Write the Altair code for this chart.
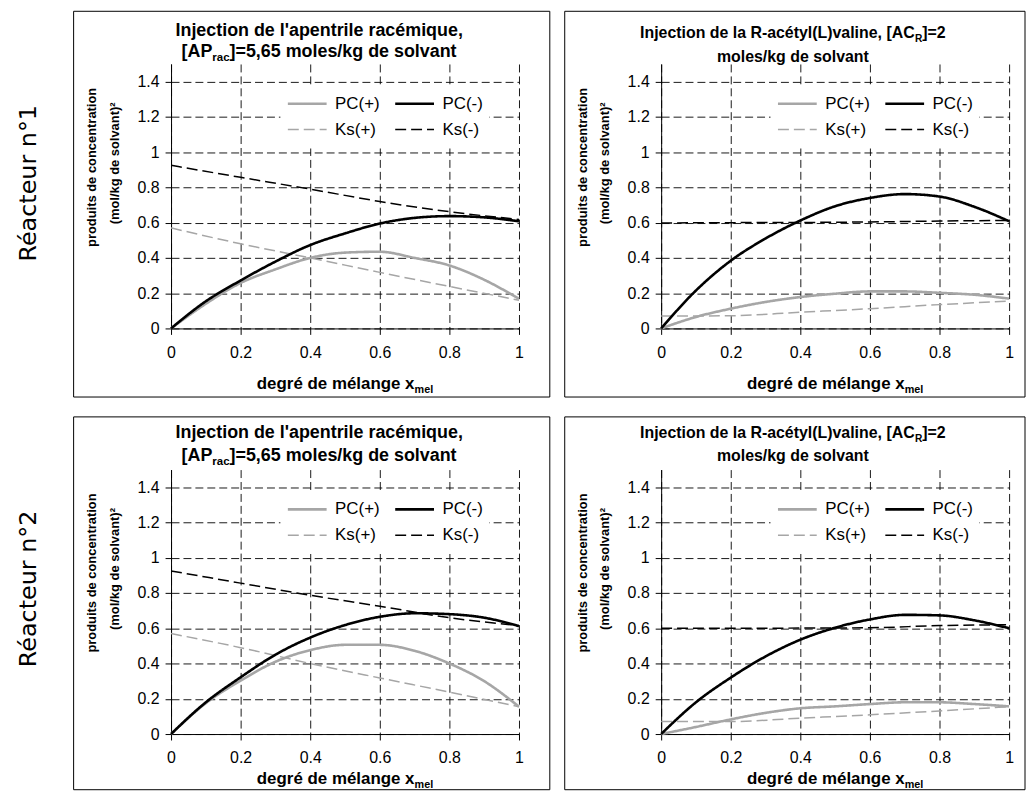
import altair as alt
import pandas as pd

# ---------------- data ----------------
X_PC = [0.0, 0.1, 0.2, 0.3, 0.4, 0.5, 0.6, 0.7, 0.8, 0.9, 1.0]
X_KS = [0.0, 0.2, 0.4, 0.6, 0.8, 1.0]

# Réacteur n°1 - injection de l'apentrile racémique
R1_AP_PC_PLUS = [0, 0.14, 0.258, 0.335, 0.40, 0.43, 0.435, 0.40, 0.357, 0.276, 0.168]
R1_AP_PC_MINUS = [0, 0.154, 0.272, 0.379, 0.473, 0.539, 0.595, 0.627, 0.637, 0.63, 0.608]
R1_AP_KS_PLUS = [0.57, 0.48, 0.40, 0.318, 0.238, 0.16]
R1_AP_KS_MINUS = [0.925, 0.857, 0.79, 0.72, 0.662, 0.618]

# Réacteur n°1 - injection de la R-acétyl(L)valine
R1_AC_PC_PLUS = [0, 0.065, 0.112, 0.15, 0.178, 0.197, 0.21, 0.21, 0.202, 0.191, 0.169]
R1_AC_PC_MINUS = [0, 0.215, 0.384, 0.51, 0.612, 0.693, 0.74, 0.762, 0.748, 0.69, 0.608]
R1_AC_KS_PLUS = [0.07, 0.072, 0.092, 0.112, 0.135, 0.155]
R1_AC_KS_MINUS = [0.598, 0.600, 0.601, 0.604, 0.609, 0.613]

# Réacteur n°2 - injection de l'apentrile racémique
R2_AP_PC_PLUS = [0, 0.175, 0.303, 0.41, 0.476, 0.506, 0.506, 0.472, 0.40, 0.30, 0.155]
R2_AP_PC_MINUS = [0, 0.18, 0.322, 0.45, 0.547, 0.618, 0.665, 0.685, 0.68, 0.66, 0.612]
R2_AP_KS_PLUS = [0.57, 0.49, 0.40, 0.318, 0.238, 0.155]
R2_AP_KS_MINUS = [0.925, 0.856, 0.787, 0.725, 0.66, 0.615]

# Réacteur n°2 - injection de la R-acétyl(L)valine
R2_AC_PC_PLUS = [0, 0.04, 0.083, 0.12, 0.146, 0.157, 0.17, 0.18, 0.18, 0.17, 0.157]
R2_AC_PC_MINUS = [0, 0.18, 0.32, 0.44, 0.535, 0.603, 0.65, 0.676, 0.673, 0.645, 0.60]
R2_AC_KS_PLUS = [0.071, 0.071, 0.09, 0.109, 0.131, 0.155]
R2_AC_KS_MINUS = [0.60, 0.60, 0.601, 0.603, 0.615, 0.62]

# legend order: column 1 = PC(+), Ks(+); column 2 = PC(-), Ks(-)
SERIES = ["PC(+)", "Ks(+)", "PC(-)", "Ks(-)"]
X_TICKS = [0, 0.2, 0.4, 0.6, 0.8, 1]
Y_TICKS = [0, 0.2, 0.4, 0.6, 0.8, 1, 1.2, 1.4]

ROW_LABELS = ["Réacteur n°1", "Réacteur n°2"]
Y_TITLE = ["produits de concentration", "(mol/kg de solvant)²"]
X_TITLE = ("degré de mélange x", "mel")

# ---------------- styling ----------------
FONT = "Liberation Sans"
GRAY = "#a6a6a6"
COLORS = [GRAY, GRAY, "#000000", "#000000"]
DASHES = [[1, 0], [11, 5], [1, 0], [11, 5]]
WIDTHS = [2.6, 1.5, 2.6, 1.5]
PW, PH = 350, 266

# Arial / Liberation Sans Bold advance widths (per 1000 em)
AB = {" ": 278, "[": 333, "]": 333, "(": 333, ")": 333, "=": 584, ",": 278, "-": 333,
      "/": 278, "'": 238, "2": 556, "5": 556, "6": 556,
      "A": 722, "C": 722, "I": 278, "L": 611, "P": 667, "R": 722,
      "a": 556, "c": 556, "d": 611, "e": 556, "é": 556, "g": 611, "i": 278, "j": 278,
      "k": 556, "l": 278, "m": 889, "n": 611, "o": 611, "p": 611, "q": 611, "r": 389,
      "s": 556, "t": 333, "u": 611, "v": 556, "x": 556, "y": 556}


def wb(s, size):
    return sum(AB.get(c, 556) for c in s) * size / 1000.0


ONE = pd.DataFrame({"k": [0]})


def txt(s, x, y, size, bold=True, align="left", angle=0, font=FONT, baseline="alphabetic"):
    return alt.Chart(ONE).mark_text(
        text=s, align=align, baseline=baseline, fontSize=size,
        fontWeight="bold" if bold else "normal", font=font, angle=angle, color="black"
    ).encode(x=alt.value(x), y=alt.value(y))


def rich(parts, cx, y, size):
    sub = size * 0.64
    widths = [wb(s, sub if is_sub else size) for s, is_sub in parts]
    x = cx - sum(widths) / 2.0
    out = []
    for (s, is_sub), w in zip(parts, widths):
        out.append(txt(s, x, y + (size * 0.25 if is_sub else 0), sub if is_sub else size))
        x += w
    return out


def panel(pc_plus, pc_minus, ks_plus, ks_minus, title_layers, frame, xtitle_y, row_label=None):
    rows = []
    for name, xs, ys in [("Ks(+)", X_KS, ks_plus), ("PC(+)", X_PC, pc_plus),
                         ("Ks(-)", X_KS, ks_minus), ("PC(-)", X_PC, pc_minus)]:
        rows += [{"x": a, "y": b, "s": name} for a, b in zip(xs, ys)]
    df = pd.DataFrame(rows)
    leg = alt.Legend(title=None, orient="none", legendX=110, legendY=21, columns=2,
                     symbolType="stroke", symbolSize=1521, labelFontSize=17, labelFont=FONT,
                     labelColor="black", fillColor="white", padding=6, columnPadding=14,
                     labelOffset=7, rowPadding=0, clipHeight=26)
    lines = alt.Chart(df).mark_line(interpolate="monotone").encode(
        x=alt.X("x:Q", scale=alt.Scale(domain=[0, 1], nice=False),
                axis=alt.Axis(values=X_TICKS, format="~g", title=None, labelFlush=False,
                              labelOverlap=False, tickSize=6, labelPadding=10)),
        y=alt.Y("y:Q", scale=alt.Scale(domain=[0, 1.5], nice=False),
                axis=alt.Axis(values=Y_TICKS, format="~g", title=None, labelFlush=False,
                              labelOverlap=False, tickSize=6, labelPadding=6)),
        color=alt.Color("s:N", scale=alt.Scale(type="ordinal", domain=SERIES, range=COLORS),
                        legend=leg),
        strokeDash=alt.StrokeDash("s:N", scale=alt.Scale(type="ordinal", domain=SERIES, range=DASHES),
                                  legend=leg),
        strokeWidth=alt.StrokeWidth("s:N", scale=alt.Scale(type="ordinal", domain=SERIES, range=WIDTHS),
                                    legend=leg),
    )
    fx1, fy1, fx2, fy2 = frame
    deco = [alt.Chart(ONE).mark_rect(fillOpacity=0, stroke="black", strokeWidth=1).encode(
        x=alt.value(fx1), x2=alt.value(fx2), y=alt.value(fy1), y2=alt.value(fy2))]
    if row_label is not None:
        deco.append(alt.Chart(ONE).mark_rect(opacity=0).encode(
            x=alt.value(-164), x2=alt.value(fx1), y=alt.value(0), y2=alt.value(10)))
        deco.append(txt(row_label, -143, 120, 24, bold=False, align="center", angle=270,
                        font="DejaVu Sans", baseline="middle"))
    ytitle = [txt(Y_TITLE[0], -79, 104, 13, align="center", angle=270, baseline="middle"),
              txt(Y_TITLE[1], -56, 100, 13, align="center", angle=270, baseline="middle")]
    xt = rich([(X_TITLE[0], False), (X_TITLE[1], True)], PW / 2.0, xtitle_y, 17)
    return alt.layer(*deco, lines, *title_layers, *ytitle, *xt).properties(width=PW, height=PH)


def ap_title(y1, y2, cx=149, size=18):
    return [txt("Injection de l'apentrile racémique,", cx, y1, size, align="center")] + \
        rich([("[AP", False), ("rac", True), ("]=5,65 moles/kg de solvant", False)], cx, y2, size)


def ac_title(y1, y2, cx=132.5, size=16):
    return rich([("Injection de la R-acétyl(L)valine, [AC", False), ("R", True), ("]=2", False)],
                cx, y1, size) + [txt("moles/kg de solvant", cx, y2, size, align="center")]


p1 = panel(R1_AP_PC_PLUS, R1_AP_PC_MINUS, R1_AP_KS_PLUS, R1_AP_KS_MINUS,
           ap_title(-28, -7), (-98, -53, 381, 335), 327, ROW_LABELS[0])
p2 = panel(R1_AC_PC_PLUS, R1_AC_PC_MINUS, R1_AC_KS_PLUS, R1_AC_KS_MINUS,
           ac_title(-26, -2), (-97, -53, 366, 335), 327)
p3 = panel(R2_AP_PC_PLUS, R2_AP_PC_MINUS, R2_AP_KS_PLUS, R2_AP_KS_MINUS,
           ap_title(-32, -9), (-98, -53, 381, 322), 316, ROW_LABELS[1])
p4 = panel(R2_AC_PC_PLUS, R2_AC_PC_MINUS, R2_AC_KS_PLUS, R2_AC_KS_MINUS,
           ac_title(-32, -9), (-97, -53, 366, 322), 316)

IND = dict(color="independent", strokeDash="independent", strokeWidth="independent")

row1 = alt.hconcat(p1, p2, spacing=13).resolve_scale(**IND)
row2 = alt.hconcat(p3, p4, spacing=13).resolve_scale(**IND)

chart = alt.vconcat(row1, row2, spacing=18).resolve_scale(**IND).properties(
    padding={"left": 0, "top": 0, "right": 0, "bottom": 0}, background="white"
).configure_view(stroke=None).configure_axis(
    domainColor="black", tickColor="black", gridColor="black", gridDash=[8, 4],
    gridWidth=1, gridOpacity=0.9, labelFont=FONT, labelFontSize=16, labelColor="black",
    domainWidth=1, tickWidth=1
)

chart.save("out.html", embed_options={"renderer": "svg", "actions": False})
